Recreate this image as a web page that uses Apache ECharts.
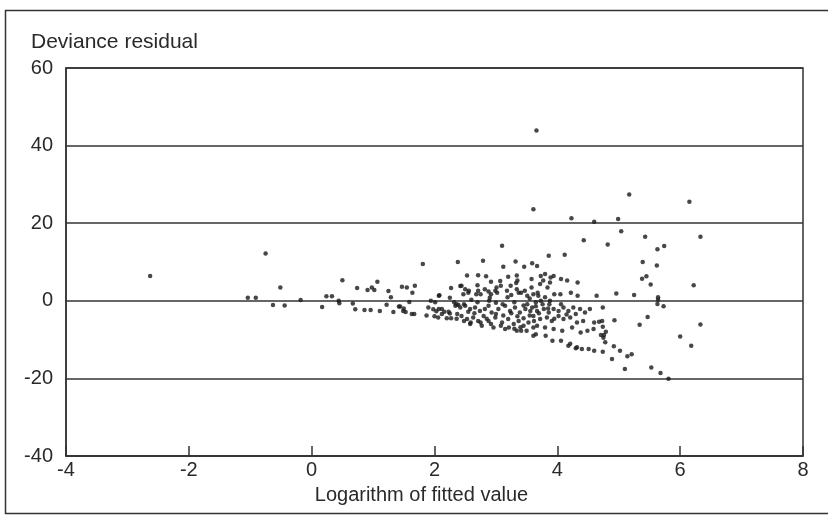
<!DOCTYPE html>
<html>
<head>
<meta charset="utf-8">
<script src="https://cdn.jsdelivr.net/npm/echarts@6/dist/echarts.min.js"></script>
<style>
html,body{margin:0;padding:0;background:#fff;}
#chart{width:828px;height:517px;}
</style>
</head>
<body>
<div id="chart"></div>
<script>
var yTitle = 'Deviance residual';
var xTitle = 'Logarithm of fitted value';
var xTicks = [-4, -2, 0, 2, 4, 6, 8];
var yTicks = [-40, -20, 0, 20, 40, 60];

// [log fitted value, deviance residual]
var leftPoints = [
  [-2.63,6.4],[-1.04,0.8],[-0.91,0.8],[-0.75,12.2],[-0.51,3.4],[-0.63,-1.1],[-0.44,-1.2],[-0.18,0.2],
  [0.17,-1.6],[0.24,1.2],[0.33,1.2],[0.44,0],[0.45,-0.6],[0.50,5.3],[0.67,-0.7],[0.71,-2.2],[0.74,3.3],
  [0.86,-2.4],[0.96,-2.4],[0.91,2.8],[0.98,3.4],[1.02,2.8],[1.07,4.9],[1.11,-2.6],[1.25,2.5],[1.29,0.9],
  [1.22,-1.0],[1.33,-2.9],[1.42,-1.5],[1.49,-2.6],
  [1.81,9.5],[2.38,10],[1.47,3.6],[1.55,3.4],[1.68,3.9],[1.64,2.1],[2.27,3.3],[2.08,1.4],[2.42,3.8],
  [1.44,-1.5],[1.50,-2.0],[1.53,-2.9],[1.63,-3.4],[1.67,-3.4],[1.59,-0.3],
  [1.90,-1.7],[1.87,-3.8],[1.98,-2.2],[2.03,-2.7],[2.07,-2.1],[2.12,-2.1],[2.16,-2.8],[2.12,-3.4],
  [2.23,-2.8],[2.25,-3.3],[2.0,-4.0],[2.06,-4.3],[2.2,-4.5],[2.27,-4.5],[2.36,-4.6],[1.94,0],[2.01,-0.4],
  [2.34,-1.3],[2.39,-1.1],[2.07,1.3],[2.32,-0.4],[2.25,0.8]
];
var clusterAbove = [
  [3.10,14.2],[2.79,10.3],[3.12,8.8],[3.32,10.1],[3.46,8.8],[3.59,9.7],[3.67,9.0],
  [2.53,6.5],[2.71,6.6],[2.84,6.3],[2.92,4.9],[3.07,5.1],[3.2,6.2],[3.34,6.5],[3.33,4.6],[3.58,5.6],
  [2.44,3.9],[2.50,3.0],[2.55,2.1],[2.47,1.7],[2.70,4.0],[2.71,2.6],[2.68,1.7],[2.82,3.0],[2.88,2.4],
  [2.99,2.6],[3.01,3.4],[3.18,2.6],[3.34,3.0],[3.37,2.1],[3.47,2.6],[3.58,3.4],
  [3.73,6.4],[3.89,6.0],[4.06,5.6],[4.16,5.2],[4.33,4.7],[3.08,3.9],[3.24,3.9],[3.35,5.2],[2.56,2.6],
  [2.75,1.7],[2.92,1.7],[3.02,2.1],[3.19,0.9],[3.41,2.1],[3.51,1.3],[3.68,2.1],[3.84,3.4],[3.95,1.7],
  [4.22,2.1],[4.33,1.3],[2.9,0.8],[3.25,1.5],[3.55,0.6],[2.6,0.3],
  [4.43,15.6],[4.82,14.5],[3.86,11.6],[4.12,11.9],[3.80,6.9],[3.94,6.4],[3.77,5.2],[3.72,4.3],[3.88,4.7],
  [4.05,1.7],[4.64,1.3],[3.61,1.7],[3.69,1.3],[3.80,0.9],[3.88,0]
];
var clusterBelow = [
  [2.48,-0.9],[2.70,-0.4],[2.89,0],[3.11,-0.9],[3.30,-0.4],[3.51,-0.9],[3.73,0],[3.87,-0.9],[4.06,-0.9],
  [2.36,-0.9],[2.42,-1.7],[2.50,-1.3],[2.58,-2.1],[2.66,-1.7],[2.74,-2.6],[2.82,-2.1],[2.88,-1.3],
  [2.93,-3.0],[3.04,-2.1],[3.15,-1.3],[3.23,-2.6],[3.31,-1.7],[3.39,-3.0],[3.48,-2.1],[3.56,-2.6],
  [2.44,-3.9],[2.53,-4.7],[2.63,-4.3],[2.71,-5.2],[2.80,-3.9],[2.88,-5.2],[2.99,-4.3],[3.10,-5.6],
  [3.20,-4.7],[3.29,-6.0],[3.37,-5.2],[3.45,-6.4],[3.53,-5.6],[3.61,-6.9],
  [2.58,-6.0],[2.77,-6.4],[2.96,-6.9],[3.15,-7.3],[3.34,-7.7],[3.50,-7.7],
  [2.37,-3.4],[2.48,-5.2],[2.59,-5.6],[2.75,-5.6],[2.92,-6.0],[3.08,-6.4],[3.21,-6.9],[3.41,-7.7],
  [3.65,-8.6],[3.81,-9.0],[3.92,-10.3],[4.06,-10.3],
  [3.35,-4.0],[3.45,-4.5],[3.55,-3.8],[3.40,-6.8],[3.30,-7.2],[3.62,-5.2],[3.70,-3.2],[2.65,-3.2],
  [2.85,-4.6],[3.0,-3.4],[3.12,-3.8],[3.25,-3.2],[3.45,-1.2],[3.65,-1.4],[3.95,-4.6],[4.15,-3.5],
  [4.3,-3.4],[2.55,-2.8],[3.0,-0.5],[3.85,-2.0],
  [3.65,-0.4],[3.76,-0.9],[3.59,-1.7],[3.67,-2.6],[3.78,-2.1],[3.86,-3.0],[3.94,-2.1],[4.02,-2.6],
  [4.10,-1.7],[4.18,-2.6],[4.26,-1.7],[4.37,-2.1],[4.45,-3.0],[4.53,-2.1],
  [3.61,-3.9],[3.72,-4.7],[3.83,-4.3],[3.91,-5.2],[4.02,-3.9],[4.10,-4.7],[4.21,-4.3],[4.32,-5.6],
  [4.42,-5.2],[3.67,-6.4],[3.80,-6.9],[3.94,-7.3],[4.08,-7.7],[4.24,-6.9],[4.38,-8.2],[4.49,-7.7],
  [4.59,-7.3],[3.61,-9.0],[4.21,-11.1],[4.32,-12.0],[4.40,-12.4],[4.51,-12.4],[4.75,-9.5],[4.73,-5.2],
  [4.18,-11.6],[4.30,-12.2],[4.60,-12.9],[4.60,-5.6],[4.68,-5.4],[4.74,-1.7]
];
var rightPoints = [
  [3.66,43.9],[3.61,23.6],[4.23,21.3],[4.60,20.4],
  [5.17,27.4],[6.15,25.5],[4.99,21.1],[5.04,17.9],[5.43,16.5],[6.33,16.5],[5.63,13.3],[5.74,14.1],
  [5.39,10.0],[5.62,9.1],[5.38,5.7],[5.45,6.3],[5.52,4.2],[6.22,4.0],[4.96,1.9],[5.25,1.5],[5.64,0.9],
  [5.64,0.3],[5.63,-0.8],[5.73,-1.4],[4.93,-5.0],[5.47,-4.2],[5.34,-6.2],[6.33,-6.1],[4.74,-6.7],
  [4.79,-8.0],[4.76,-8.8],[4.71,-8.8],[6.0,-9.2],[4.78,-10.7],[6.18,-11.6],[4.92,-11.7],[5.02,-12.9],
  [4.74,-13.1],[5.21,-13.8],[5.14,-14.3],[4.89,-15.0],[5.10,-17.6],[5.53,-17.2],[5.68,-18.6],[5.81,-20.1]
];

var allPoints = leftPoints.concat(clusterAbove, clusterBelow, rightPoints);
var FONT = '"Liberation Sans", Arial, Helvetica, sans-serif';
var INK = '#2a2a2a';

var chart = echarts.init(document.getElementById('chart'), null, {renderer: 'canvas'});
chart.setOption({
  backgroundColor: '#ffffff',
  animation: false,
  title: {
    text: yTitle, left: 31, top: 32, padding: 0,
    textStyle: {fontFamily: FONT, fontSize: 21, fontWeight: 'normal', color: INK}
  },
  grid: {
    left: 66, right: 25, top: 68, bottom: 61,
    show: true, borderColor: '#333', borderWidth: 1.5, backgroundColor: 'transparent'
  },
  xAxis: {
    type: 'value', min: xTicks[0], max: xTicks[xTicks.length - 1], interval: 2,
    name: xTitle, nameLocation: 'middle', nameGap: 29,
    nameTextStyle: {fontFamily: FONT, fontSize: 20, color: INK, padding: [0, 26, 0, 0]},
    axisLine: {show: true, onZero: false, lineStyle: {color: '#333', width: 1.5}},
    axisTick: {show: true, inside: true, length: 10, lineStyle: {color: '#333', width: 1.5}},
    axisLabel: {fontFamily: FONT, fontSize: 20, color: INK, margin: 4},
    splitLine: {show: false}
  },
  yAxis: {
    type: 'value', min: yTicks[0], max: yTicks[yTicks.length - 1], interval: 20,
    axisLine: {show: true, onZero: false, lineStyle: {color: '#333', width: 1.5}},
    axisTick: {show: false},
    axisLabel: {fontFamily: FONT, fontSize: 20, color: INK, margin: 13},
    splitLine: {show: true, lineStyle: {color: '#333', width: 1.5}}
  },
  graphic: [{
    type: 'rect', silent: true, z: 100,
    shape: {x: 5.5, y: 10.5, width: 840, height: 503},
    style: {fill: 'none', stroke: '#333', lineWidth: 1.5}
  }],
  series: [{
    type: 'scatter',
    data: allPoints,
    symbol: 'circle',
    symbolSize: 4.5,
    itemStyle: {color: '#1a1a1a'}
  }]
});
</script>
</body>
</html>
